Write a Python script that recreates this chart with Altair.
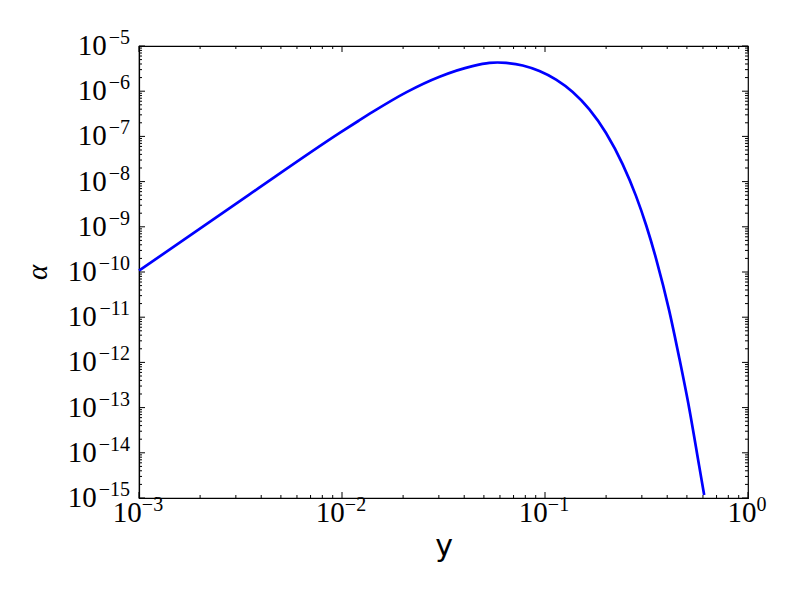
import altair as alt
import pandas as pd

# ---- data ----
y_vals = [0.001, 0.003476, 0.00974, 0.01208, 0.01416, 0.02081, 0.03025, 0.04394,
          0.05327, 0.05832, 0.06436, 0.07767, 0.09386, 0.1134, 0.1369, 0.1654,
          0.1998, 0.2411, 0.2806, 0.3153, 0.3532, 0.4091, 0.4583, 0.5132, 0.5744, 0.6083]
alpha_vals = [1.07e-10, 5.08e-9, 1.19e-7, 2.22e-7, 3.48e-7, 9.55e-7, 2.09e-6, 3.59e-6,
              4.22e-6, 4.31e-6, 4.22e-6, 3.70e-6, 2.79e-6, 1.80e-6, 9.59e-7, 3.96e-7,
              1.19e-7, 2.44e-8, 4.83e-9, 1.07e-9, 1.91e-10, 1.40e-11, 1.27e-12,
              9.71e-14, 5.20e-15, 1.16e-15]

x_exponents = [-3, -2, -1, 0]
y_exponents = [-15, -14, -13, -12, -11, -10, -9, -8, -7, -6, -5]
minor_mantissas = [2, 3, 4, 5, 6, 7, 8, 9]
label_base = "10"

W, H = 609, 452
MAJ, MIN = 6, 3
FONT = "Liberation Serif"
BASE_SIZE, EXP_SIZE = 29, 20

df = pd.DataFrame({"y": y_vals, "alpha": alpha_vals})

x_major = [10.0 ** e for e in x_exponents]
y_major = [10.0 ** e for e in y_exponents]
x_minor = [m * 10.0 ** e for e in x_exponents[:-1] for m in minor_mantissas]
y_minor = [m * 10.0 ** e for e in y_exponents[:-1] for m in minor_mantissas]

xs = alt.Scale(type="log", domain=[1e-3, 1], nice=False)
ys = alt.Scale(type="log", domain=[1e-15, 1e-5], nice=False)

x_axis = alt.Axis(
    values=x_major, labels=False, ticks=False, grid=False,
    title="y", titleFont="DejaVu Sans", titleFontSize=30, titleFontWeight="normal",
    titleColor="black", titlePadding=33)
y_axis = alt.Axis(
    values=y_major, labels=False, ticks=False, grid=False,
    title="α", titleFont=FONT, titleFontStyle="italic", titleFontSize=29,
    titleFontWeight="normal", titleColor="black", titlePadding=87)

line = alt.Chart(df).mark_line(color="#0000ff", strokeWidth=2.7, interpolate="monotone").encode(
    x=alt.X("y:Q", scale=xs, axis=x_axis),
    y=alt.Y("alpha:Q", scale=ys, axis=y_axis),
)


def exp_text(e):
    return ("−" if e < 0 else "") + str(abs(e))


def exp_width(e):
    return (11.3 if e < 0 else 0) + 10 * len(str(abs(e))) + 2


def xticks(vals, length):
    d = pd.DataFrame({"v": vals})
    bottom = alt.Chart(d).mark_rule(color="black", strokeWidth=1).encode(
        x=alt.X("v:Q", scale=xs, axis=x_axis), y=alt.value(H), y2=alt.value(H - length))
    top = alt.Chart(d).mark_rule(color="black", strokeWidth=1).encode(
        x=alt.X("v:Q", scale=xs, axis=x_axis), y=alt.value(0), y2=alt.value(length))
    return [bottom, top]


def yticks(vals, length):
    d = pd.DataFrame({"v": vals})
    left = alt.Chart(d).mark_rule(color="black", strokeWidth=1).encode(
        y=alt.Y("v:Q", scale=ys, axis=y_axis), x=alt.value(0), x2=alt.value(length))
    right = alt.Chart(d).mark_rule(color="black", strokeWidth=1).encode(
        y=alt.Y("v:Q", scale=ys, axis=y_axis), x=alt.value(W), x2=alt.value(W - length))
    return [left, right]


def x_labels():
    out = []
    for e in x_exponents:
        d = pd.DataFrame({"v": [10.0 ** e], "base": [label_base], "exp": [exp_text(e)]})
        total = BASE_SIZE + exp_width(e)
        left = -total / 2
        out.append(alt.Chart(d).mark_text(
            align="left", baseline="middle", font=FONT, fontSize=BASE_SIZE, color="black",
            dx=left, dy=15).encode(
            x=alt.X("v:Q", scale=xs, axis=x_axis), y=alt.value(H), text="base:N"))
        out.append(alt.Chart(d).mark_text(
            align="left", baseline="middle", font=FONT, fontSize=EXP_SIZE, color="black",
            dx=left + BASE_SIZE, dy=7).encode(
            x=alt.X("v:Q", scale=xs, axis=x_axis), y=alt.value(H), text="exp:N"))
    return out


def y_labels():
    out = []
    for e in y_exponents:
        d = pd.DataFrame({"v": [10.0 ** e], "base": [label_base], "exp": [exp_text(e)]})
        out.append(alt.Chart(d).mark_text(
            align="right", baseline="middle", font=FONT, fontSize=EXP_SIZE, color="black",
            dx=-9, dy=-8).encode(
            y=alt.Y("v:Q", scale=ys, axis=y_axis), x=alt.value(0), text="exp:N"))
        out.append(alt.Chart(d).mark_text(
            align="right", baseline="middle", font=FONT, fontSize=BASE_SIZE, color="black",
            dx=-9 - exp_width(e), dy=0).encode(
            y=alt.Y("v:Q", scale=ys, axis=y_axis), x=alt.value(0), text="base:N"))
    return out


layers = ([line] + xticks(x_major, MAJ) + xticks(x_minor, MIN) + yticks(y_major, MAJ)
          + yticks(y_minor, MIN) + x_labels() + y_labels())

chart = alt.layer(*layers).properties(
    width=W, height=H,
    padding={"left": 131, "top": 38, "right": 20, "bottom": 90},
    autosize=alt.AutoSizeParams(type="none"),
    background="white",
).configure_view(stroke="black", strokeWidth=1.2).configure_axis(domainColor="black", domainWidth=1.2)

chart.save("out.html", embed_options={"renderer": "svg", "actions": False})
